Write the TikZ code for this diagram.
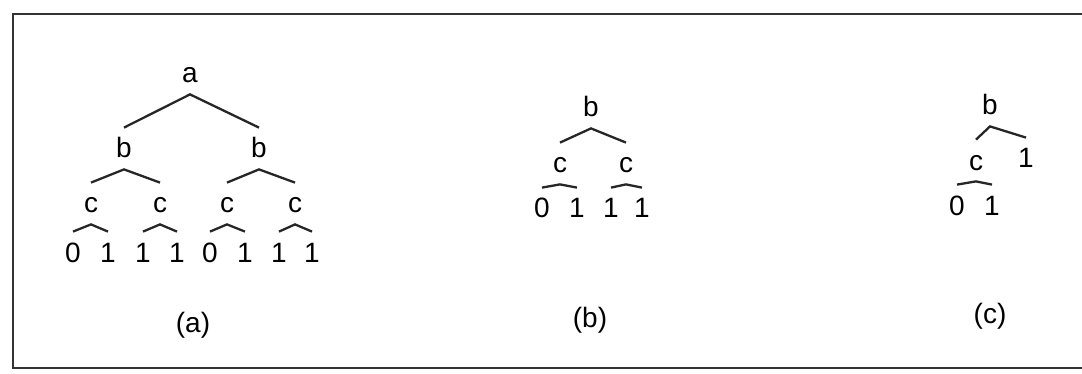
\documentclass[tikz,border=0pt]{standalone}
\usepackage{fontspec}
\setmainfont{Liberation Sans}
\begin{document}
\begin{tikzpicture}[x=0.5pt, y=-0.5pt,
            every node/.style={anchor=base, inner xsep=0pt, inner ysep=5.5pt,
              text height=9.5pt, text depth=0pt, font=\fontsize{14}{16}\selectfont},
            edge_style/.style={draw=black!85, line width=1.15pt}]
            \tikzset{frame line/.style={draw=black!80, line width=1.1pt}}
            \tikzset{caption/.style={text height=, font=\fontsize{14}{16}\selectfont}}
            \useasboundingbox (0,0) rectangle (1082,374);
            \coordinate (ftr) at (1082,14);
            \coordinate (ftl) at (13,14);
            \coordinate (fbl) at (13,368);
            \coordinate (fbr) at (1082,368);
            \draw[frame line] (ftr) -- (ftl) -- (fbl) -- (fbr);
            % tree (a)
            \node (a) at (190,83) {a};
            \node (ab1) at (124,158) {b};
            \node (ab2) at (259,158) {b};
            \node (ac1) at (91,213) {c};
            \node (ac2) at (160,213) {c};
            \node (ac3) at (227,213) {c};
            \node (ac4) at (295,213) {c};
            \node (al1) at (73,262) {0};
            \node (al2) at (108,262) {1};
            \node (al3) at (143,262) {1};
            \node (al4) at (177,262) {1};
            \node (al5) at (210,262) {0};
            \node (al6) at (245,262) {1};
            \node (al7) at (279,262) {1};
            \node (al8) at (312,262) {1};
            \draw[edge_style] (ab1.north) -- (a.south) -- (ab2.north);
            \draw[edge_style] (ac1.north) -- (ab1.south) -- (ac2.north);
            \draw[edge_style] (ac3.north) -- (ab2.south) -- (ac4.north);
            \draw[edge_style] (al1.north) -- (ac1.south) -- (al2.north);
            \draw[edge_style] (al3.north) -- (ac2.south) -- (al4.north);
            \draw[edge_style] (al5.north) -- (ac3.south) -- (al6.north);
            \draw[edge_style] (al7.north) -- (ac4.south) -- (al8.north);
            % tree (b)
            \node (bb) at (591,117) {b};
            \node (bc1) at (560,173) {c};
            \node (bc2) at (626,173) {c};
            \node (bl1) at (542,218) {0};
            \node (bl2) at (577,218) {1};
            \node (bl3) at (611,218) {1};
            \node (bl4) at (642,218) {1};
            \draw[edge_style] (bc1.north) -- (bb.south) -- (bc2.north);
            \draw[edge_style] (bl1.north) -- (bc1.south) -- (bl2.north);
            \draw[edge_style] (bl3.north) -- (bc2.south) -- (bl4.north);
            % tree (c)
            \node (cb) at (990,115) {b};
            \node (cc) at (976,170) {c};
            \node (cone) at (1026,168) {1};
            \node (cl1) at (957,215) {0};
            \node (cl2) at (992,215) {1};
            \draw[edge_style] (cc.north) -- (cb.south) -- (cone.north);
            \draw[edge_style] (cl1.north) -- (cc.south) -- (cl2.north);
            % captions
            \node[caption] (capa) at (193,332) {(a)};
            \node[caption] (capb) at (590,327) {(b)};
            \node[caption] (capc) at (990,323) {(c)};
        \end{tikzpicture}
\end{document}
